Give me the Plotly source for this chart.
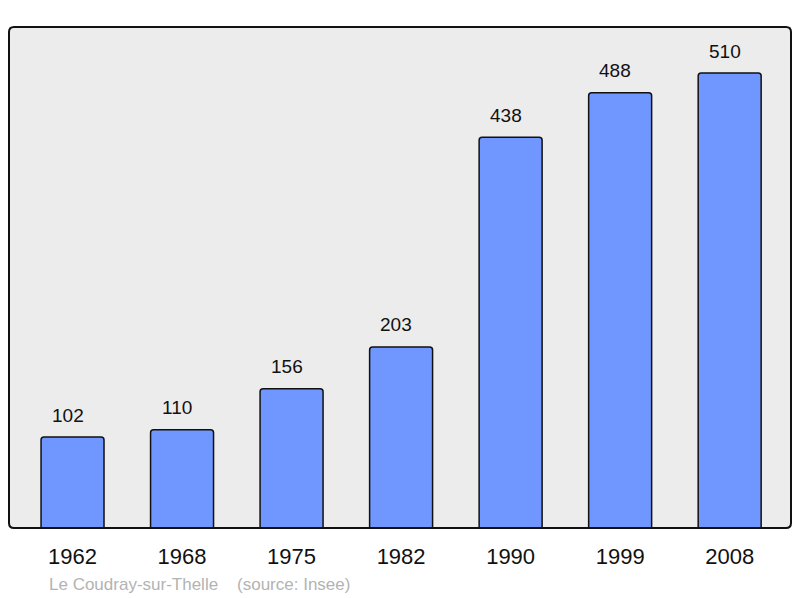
import plotly.graph_objects as go

years = ["1962", "1968", "1975", "1982", "1990", "1999", "2008"]
population = [102, 110, 156, 203, 438, 488, 510]
footer_text = "Le Coudray-sur-Thelle\u00a0\u00a0\u00a0\u00a0(source: Insee)"

FONT = "Liberation Sans, Arial, sans-serif"

fig = go.Figure()
fig.add_trace(go.Bar(
    x=years, y=population, width=0.575,
    marker=dict(color="#7097ff", line=dict(color="#111111", width=1.5)),
    hoverinfo="skip",
))

for i, v in enumerate(population):
    fig.add_annotation(x=i, y=v, text=str(v), showarrow=False,
                       yanchor="middle", yshift=22, xshift=-5,
                       font=dict(family=FONT, size=19, color="#111111"))

fig.add_annotation(xref="paper", yref="paper", x=(47 - 9) / 782, y=-(584 - 528) / 501,
                   xanchor="left", yanchor="middle", showarrow=False,
                   text=footer_text, font=dict(family=FONT, size=17, color="#b3b3b3"))

# rounded frame
rx, ry = 5 / 782, 5 / 501
path = (f"M {rx},0 L {1-rx},0 Q 1,0 1,{ry} L 1,{1-ry} Q 1,1 {1-rx},1 "
        f"L {rx},1 Q 0,1 0,{1-ry} L 0,{ry} Q 0,0 {rx},0 Z")
fig.add_shape(type="path", xref="paper", yref="paper", path=path,
              line=dict(color="#111111", width=2), layer="above")

fig.update_layout(
    width=800, height=598,
    margin=dict(l=9, r=9, t=27, b=70),
    paper_bgcolor="white", plot_bgcolor="#ececec",
    barcornerradius=3,
    showlegend=False,
    xaxis=dict(type="category", range=[-0.58, 6.56], showgrid=False, zeroline=False,
               showline=False, ticks="", ticklabelstandoff=13,
               tickfont=dict(family=FONT, size=22, color="#111111")),
    yaxis=dict(range=[0, 561.6], showgrid=False, zeroline=False, showline=False,
               showticklabels=False, ticks=""),
)

fig.write_html("out.html", config={"displayModeBar": False},
               post_script="document.body.style.margin='0';document.body.style.overflow='hidden';")
